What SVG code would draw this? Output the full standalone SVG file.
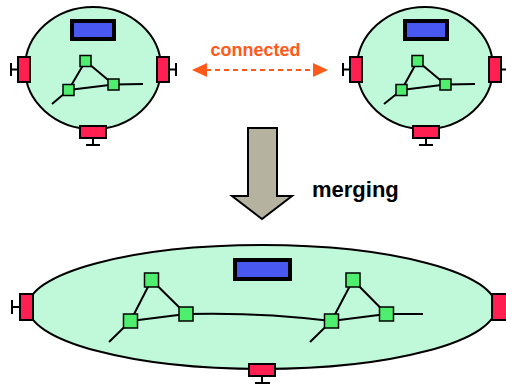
<svg xmlns="http://www.w3.org/2000/svg" width="506" height="386" viewBox="0 0 506 386">
<style>
.cell{fill:#C0F8DA;stroke:#000;stroke-width:2}
.blue{fill:#4858F0;stroke:#000;stroke-width:4}
.port{fill:#FF1F50;stroke:#000;stroke-width:2}
.stub{stroke:#000;stroke-width:2;fill:none}
.node{fill:#50EE6E;stroke:#000;stroke-width:1.5}
.net{stroke:#000;stroke-width:2;fill:none}
.lbl{font-family:"Liberation Sans",Arial,sans-serif;font-weight:bold}
</style>
<g id="cell-left">
<ellipse class="cell" cx="93" cy="68" rx="68" ry="61"/>
<rect class="blue" x="72" y="21" width="42" height="18"/>
<path class="net" d="M85.5,61 L68.5,90 M85.5,61 L113.5,84.5 M68.5,90 L113.5,84.5 L143,84 M68.5,90 L52,104"/>
<rect class="node" x="80" y="55.5" width="11" height="11"/>
<rect class="node" x="63" y="84.5" width="11" height="11"/>
<rect class="node" x="108" y="79" width="11" height="11"/>
<path class="stub" d="M18,69.5 H11 M11,63 V76 M169,69.5 H176 M176,63 V76 M93,138 V145 M86,145 H100"/>
<rect class="port" x="18" y="57" width="12" height="25"/>
<rect class="port" x="157" y="57" width="12" height="25"/>
<rect class="port" x="80" y="126" width="26" height="12"/>
</g>
<g id="cell-right">
<ellipse class="cell" cx="425" cy="68" rx="68" ry="61"/>
<rect class="blue" x="405" y="21" width="42" height="18"/>
<path class="net" d="M417.5,61 L401.5,90 M417.5,61 L445.5,84.5 M401.5,90 L445.5,84.5 L475,84 M401.5,90 L384,104"/>
<rect class="node" x="412" y="55.5" width="11" height="11"/>
<rect class="node" x="396" y="84.5" width="11" height="11"/>
<rect class="node" x="440" y="79" width="11" height="11"/>
<path class="stub" d="M350,69.5 H343 M343,63 V76 M501,69.5 H507 M426,138 V145 M419,145 H433"/>
<rect class="port" x="350" y="57" width="12" height="25"/>
<rect class="port" x="489" y="57" width="12" height="25"/>
<rect class="port" x="413" y="126" width="26" height="12"/>
</g>
<g id="connectors">
<line x1="206" y1="70" x2="314" y2="70" stroke="#FF5A1A" stroke-width="2" stroke-dasharray="5 4"/>
<polygon points="192,70 207,63 207,77" fill="#FF5A1A"/>
<polygon points="328,70 313,63 313,77" fill="#FF5A1A"/>
<text class="lbl" x="255.5" y="55.5" font-size="18" text-anchor="middle" fill="#FF5A1A">connected</text>
<polygon points="248,128 277,128 277,196 292,196 262,219 232,196 248,196" fill="#B5B3A0" stroke="#000" stroke-width="2"/>
<text class="lbl" x="312" y="197" font-size="22" fill="#000">merging</text>
</g>
<g id="cell-merged">
<ellipse class="cell" cx="262" cy="307" rx="234" ry="62"/>
<rect class="blue" x="235" y="260" width="55" height="19"/>
<path class="net" d="M151.5,280 L130.5,321 M151.5,280 L186,314 M130.5,321 L186,314 Q260,312 331.5,321 M130.5,321 L109,342"/>
<path class="net" d="M353,280 L331.5,321 M353,280 L386.5,314 M331.5,321 L386.5,314 L423,314 M331.5,321 L310,342"/>
<rect class="node" x="144.5" y="273" width="14" height="14"/>
<rect class="node" x="123.5" y="314" width="14" height="14"/>
<rect class="node" x="179" y="307" width="14" height="14"/>
<rect class="node" x="346" y="273" width="14" height="14"/>
<rect class="node" x="324.5" y="314" width="14" height="14"/>
<rect class="node" x="379.5" y="307" width="14" height="14"/>
<path class="stub" d="M20,307 H12 M12,300 V314 M262,376 V383 M255,383 H270"/>
<rect class="port" x="20" y="294" width="13" height="26"/>
<rect class="port" x="492" y="294" width="16" height="26"/>
<rect class="port" x="249" y="364" width="26" height="12"/>
</g>
</svg>
